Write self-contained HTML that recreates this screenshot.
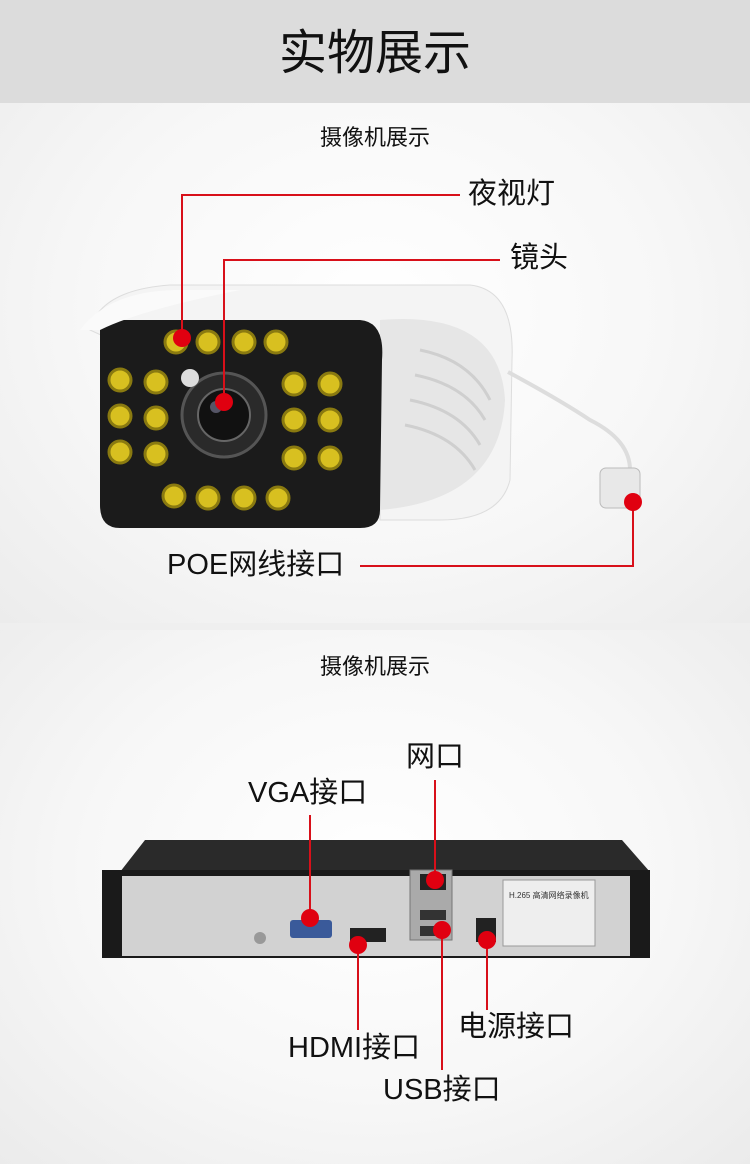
<!DOCTYPE html>
<html><head><meta charset="utf-8"><style>
html,body{margin:0;padding:0}
body{width:750px;height:1164px;position:relative;overflow:hidden;background:#efefef;font-family:"Liberation Sans","Noto Sans CJK SC",sans-serif;}
.hdr{position:absolute;left:0;top:0;width:750px;height:103px;background:#dcdcdc;}
.t{position:absolute;white-space:nowrap;color:#111;}
svg{position:absolute;left:0;top:0}
</style></head><body>
<div class="hdr"></div>
<div style="position:absolute;left:0;top:103px;width:750px;height:520px;background:radial-gradient(ellipse at 50% 40%,#fff 0%,#f7f7f7 55%,#ececec 100%)"></div>
<div style="position:absolute;left:0;top:630px;width:750px;height:534px;background:radial-gradient(ellipse at 50% 45%,#fff 0%,#f7f7f7 55%,#ebebeb 100%)"></div>
<div class="t" style="left:0;width:750px;text-align:center;top:24px;font-size:48px;line-height:60px;">实物展示</div>
<div class="t" style="left:0;width:750px;text-align:center;top:124px;font-size:22px;line-height:28px;">摄像机展示</div>
<div class="t" style="left:0;width:750px;text-align:center;top:653px;font-size:22px;line-height:28px;">摄像机展示</div>
<svg width="750" height="1164" viewBox="0 0 750 1164">
<!-- camera housing -->
<path d="M90 330 Q100 290 170 285 L470 285 Q515 290 512 360 L510 480 Q500 520 440 520 L380 520 L380 420 Q240 400 90 330 Z" fill="#f4f4f4" stroke="#ddd"/>
<path d="M380 320 Q500 310 505 400 Q500 500 380 510 Z" fill="#e6e6e6"/>
<g stroke="#cfcfcf" stroke-width="3" fill="none">
<path d="M420 350 Q470 360 490 400"/><path d="M415 375 Q465 385 485 420"/><path d="M410 400 Q460 410 480 445"/><path d="M405 425 Q455 435 475 470"/></g>
<path d="M508 372 Q560 400 590 420 Q630 440 630 470" stroke="#ddd" stroke-width="4" fill="none"/>
<rect x="600" y="468" width="40" height="40" rx="6" fill="#e8e8e8" stroke="#bbb"/>
<path d="M100 320 L360 320 Q385 322 382 360 L380 510 Q380 528 360 528 L120 528 Q100 528 100 505 Z" fill="#1b1b1b"/>
<path d="M80 330 Q110 290 180 290 L240 290 Q140 310 100 330 Z" fill="#fafafa"/>
<circle cx="224" cy="415" r="42" fill="#2a2a2a" stroke="#555" stroke-width="3"/>
<circle cx="224" cy="415" r="26" fill="#111" stroke="#666" stroke-width="2"/>
<circle cx="216" cy="407" r="6" fill="#556"/>
<circle cx="190" cy="378" r="9" fill="#ddd"/>
<g fill="#d8c020" stroke="#8a7a10" stroke-width="3">
<circle cx="176" cy="342" r="11"/><circle cx="208" cy="342" r="11"/><circle cx="244" cy="342" r="11"/><circle cx="276" cy="342" r="11"/>
<circle cx="120" cy="380" r="11"/><circle cx="156" cy="382" r="11"/><circle cx="120" cy="416" r="11"/><circle cx="156" cy="418" r="11"/><circle cx="120" cy="452" r="11"/><circle cx="156" cy="454" r="11"/>
<circle cx="294" cy="384" r="11"/><circle cx="330" cy="384" r="11"/><circle cx="294" cy="420" r="11"/><circle cx="330" cy="420" r="11"/><circle cx="294" cy="458" r="11"/><circle cx="330" cy="458" r="11"/>
<circle cx="174" cy="496" r="11"/><circle cx="208" cy="498" r="11"/><circle cx="244" cy="498" r="11"/><circle cx="278" cy="498" r="11"/></g>
<!-- NVR -->
<path d="M120 872 L145 840 L622 840 L650 872 Z" fill="#2a2a2a"/>
<rect x="102" y="870" width="548" height="88" fill="#1a1a1a"/>
<rect x="122" y="876" width="508" height="80" fill="#d2d2d2"/>
<rect x="290" y="920" width="42" height="18" rx="3" fill="#3a5a9a"/>
<circle cx="260" cy="938" r="6" fill="#999"/>
<rect x="350" y="928" width="36" height="14" fill="#222"/>
<rect x="410" y="870" width="42" height="70" fill="#aaa" stroke="#777"/>
<rect x="420" y="874" width="26" height="16" fill="#222"/><rect x="420" y="910" width="26" height="10" fill="#333"/><rect x="420" y="926" width="26" height="10" fill="#333"/>
<rect x="476" y="918" width="20" height="24" fill="#222"/>
<rect x="503" y="880" width="92" height="66" fill="#eee" stroke="#999"/>
<text x="509" y="898" font-size="8" fill="#333" font-family="Liberation Sans">H.265 高清网络录像机</text>
<!-- red lines -->
<g stroke="#d8101a" stroke-width="2" fill="none">
<path d="M182 338 V195 H460"/><path d="M224 402 V260 H500"/><path d="M360 566 H633 V502"/>
<path d="M435 880 V780"/><path d="M310 918 V815"/><path d="M358 945 V1030"/><path d="M442 930 V1070"/><path d="M487 940 V1010"/></g>
<g fill="#e00010"><circle cx="182" cy="338" r="9"/><circle cx="224" cy="402" r="9"/><circle cx="633" cy="502" r="9"/>
<circle cx="435" cy="880" r="9"/><circle cx="310" cy="918" r="9"/><circle cx="358" cy="945" r="9"/><circle cx="442" cy="930" r="9"/><circle cx="487" cy="940" r="9"/></g>
</svg>
<div class="t" style="left:468px;top:176px;font-size:29px;line-height:36px;">夜视灯</div>
<div class="t" style="left:510px;top:240px;font-size:29px;line-height:36px;">镜头</div>
<div class="t" style="left:167px;top:547px;font-size:29px;line-height:36px;">POE网线接口</div>
<div class="t" style="left:406px;top:739px;font-size:29px;line-height:36px;">网口</div>
<div class="t" style="left:248px;top:775px;font-size:29px;line-height:36px;">VGA接口</div>
<div class="t" style="left:288px;top:1030px;font-size:29px;line-height:36px;">HDMI接口</div>
<div class="t" style="left:458px;top:1009px;font-size:29px;line-height:36px;">电源接口</div>
<div class="t" style="left:383px;top:1072px;font-size:29px;line-height:36px;">USB接口</div>
</body></html>
